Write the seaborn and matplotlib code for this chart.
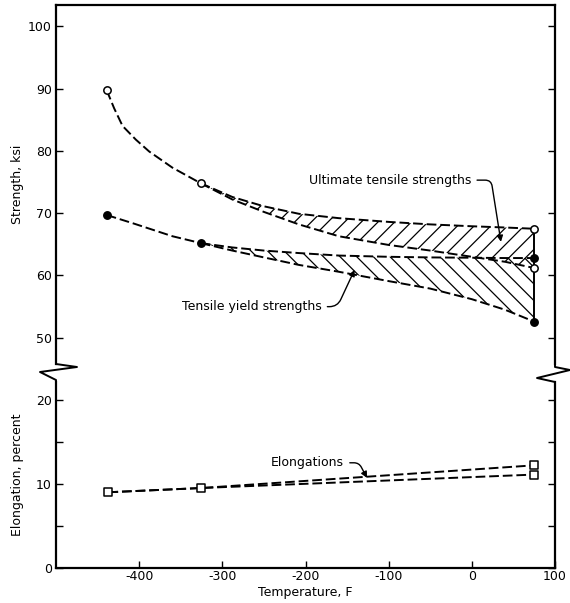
import matplotlib
matplotlib.use("Agg")
import matplotlib.pyplot as plt
from matplotlib.lines import Line2D
import seaborn as sns

# ---- data ----
# left-hand (cryogenic) part of the curves
UTS_LEFT_X = [-439, -430, -420, -404, -388, -360, -326]
UTS_LEFT_Y = [89.7, 86.8, 84.0, 81.8, 79.9, 77.3, 74.8]
TYS_LEFT_X = [-439, -408, -360, -326]
TYS_LEFT_Y = [69.7, 68.4, 66.3, 65.2]

# scatter bands from -320 F up to room temperature
BAND_X = [-326, -288, -250, -208, -160, -100, -50, 0, 40, 75]
UTS_HI = [74.8, 72.6, 71.1, 69.9, 69.2, 68.6, 68.2, 67.9, 67.7, 67.5]
UTS_LO = [74.8, 72.2, 70.2, 68.2, 66.3, 64.9, 64.0, 63.0, 62.2, 61.2]
TYS_HI = [65.2, 64.5, 64.0, 63.6, 63.2, 63.0, 62.9, 62.85, 62.8, 62.8]
TYS_LO = [65.2, 64.0, 62.9, 61.7, 60.6, 59.1, 57.9, 56.2, 54.5, 52.6]

# test points
UTS_PTS_X = [-439, -326, 75, 75]
UTS_PTS_Y = [89.7, 74.8, 67.5, 61.2]
TYS_PTS_X = [-439, -326, 75, 75]
TYS_PTS_Y = [69.7, 65.2, 62.8, 52.6]

ELONG_X = [-437, -326, 75]
ELONG_HI = [9.0, 9.5, 12.2]
ELONG_LO = [9.0, 9.5, 11.1]

X_TICKS = [-400, -300, -200, -100, 0, 100]
TOP_TICKS = [50, 60, 70, 80, 90, 100]
BOT_TICKS = [0, 5, 10, 15, 20]
BOT_LABELS = ["0", "", "10", "", "20"]

sns.set_style("ticks")
plt.rcParams["font.family"] = ["DejaVu Sans"]
plt.rcParams["hatch.linewidth"] = 0.9
plt.rcParams["hatch.color"] = "black"
for key in ("text.color", "axes.labelcolor", "xtick.color", "ytick.color"):
    plt.rcParams[key] = "black"

W, H = 570, 603
fig = plt.figure(figsize=(W / 100, H / 100), dpi=100)

def fig_box(x0, y0, x1, y1):
    # pixel box (top-left origin) -> figure fraction rect
    return [x0 / W, 1 - y1 / H, (x1 - x0) / W, (y1 - y0) / H]

ax_top = fig.add_axes(fig_box(56, 5, 555, 364))
ax_bot = fig.add_axes(fig_box(56, 382, 555, 568))

DASH = (0, (5, 2))
LW = 1.4

# ---- strength panel ----
sns.lineplot(x=UTS_LEFT_X, y=UTS_LEFT_Y, ax=ax_top, color="k", lw=LW,
             linestyle=DASH, sort=False, estimator=None)
sns.lineplot(x=TYS_LEFT_X, y=TYS_LEFT_Y, ax=ax_top, color="k", lw=LW,
             linestyle=DASH, sort=False, estimator=None)

ax_top.fill_between(BAND_X, UTS_LO, UTS_HI, facecolor="none",
                    edgecolor="k", hatch="//", linewidth=0)
ax_top.fill_between(BAND_X, TYS_LO, TYS_HI, facecolor="none",
                    edgecolor="k", hatch="\\\\", linewidth=0)

for ys in (UTS_HI, UTS_LO, TYS_HI, TYS_LO):
    sns.lineplot(x=BAND_X, y=ys, ax=ax_top, color="k", lw=LW,
                 linestyle=DASH, sort=False, estimator=None)

# right-hand edge of the bands
ax_top.vlines(BAND_X[-1], min(TYS_LO[-1], UTS_LO[-1]), UTS_HI[-1],
              color="k", lw=LW)

sns.scatterplot(x=UTS_PTS_X, y=UTS_PTS_Y, ax=ax_top, marker="o", s=28,
                facecolor="white", edgecolor="k", linewidth=1.1, zorder=5)
sns.scatterplot(x=TYS_PTS_X, y=TYS_PTS_Y, ax=ax_top, marker="o", s=28,
                color="k", edgecolor="k", linewidth=1.1, zorder=5)

arrow = dict(arrowstyle="-|>", color="k", lw=1.0, mutation_scale=9,
             shrinkA=2, shrinkB=0)
ax_top.annotate("Ultimate tensile strengths", xy=(35, 65.4), xytext=(-1, 75.3),
                ha="right", va="center", fontsize=9,
                arrowprops=dict(arrow, connectionstyle="angle,angleA=0,angleB=99,rad=6"))
ax_top.annotate("Tensile yield strengths", xy=(-141, 60.9), xytext=(-181, 55.0),
                ha="right", va="center", fontsize=9,
                arrowprops=dict(arrow, connectionstyle="angle,angleA=0,angleB=245,rad=8"))

ax_top.set_xlim(-500, 100)
ax_top.set_ylim(45.8, 103.4)
ax_top.set_yticks(TOP_TICKS)
ax_top.set_xticks([])
ax_top.set_ylabel("Strength, ksi", fontsize=9)
ax_top.yaxis.set_label_coords(-0.064, 0.5)

# ---- elongation panel ----
sns.lineplot(x=ELONG_X, y=ELONG_HI, ax=ax_bot, color="k", lw=LW,
             linestyle=DASH, sort=False, estimator=None)
sns.lineplot(x=ELONG_X, y=ELONG_LO, ax=ax_bot, color="k", lw=LW,
             linestyle=DASH, sort=False, estimator=None)
sns.scatterplot(x=ELONG_X + ELONG_X[-1:], y=ELONG_HI + ELONG_LO[-1:], ax=ax_bot,
                marker="s", s=30, facecolor="white", edgecolor="k",
                linewidth=1.1, zorder=5)
ax_bot.annotate("Elongations", xy=(-126, 10.7), xytext=(-154, 12.5),
                ha="right", va="center", fontsize=9,
                arrowprops=dict(arrow, connectionstyle="angle,angleA=0,angleB=118,rad=5"))

ax_bot.set_xlim(-500, 100)
ax_bot.set_ylim(0, 22.1)
ax_bot.set_yticks(BOT_TICKS)
ax_bot.set_yticklabels(BOT_LABELS)
ax_bot.set_xticks(X_TICKS)
ax_bot.set_xticklabels([str(t) for t in X_TICKS])
ax_bot.set_xlabel("Temperature, F", fontsize=9, labelpad=2)
ax_bot.set_ylabel("Elongation, percent", fontsize=9)
ax_bot.yaxis.set_label_coords(-0.064, 0.5)

# ---- frame styling ----
for ax in (ax_top, ax_bot):
    ax.tick_params(direction="in", length=5, width=1.0, labelsize=9,
                   left=True, right=True, pad=3, colors="black")
    for sp in ax.spines.values():
        sp.set_visible(True)
        sp.set_linewidth(1.6)
        sp.set_color("k")
ax_top.spines["bottom"].set_visible(False)
ax_bot.spines["top"].set_visible(False)
ax_top.tick_params(bottom=False, top=False)
ax_bot.tick_params(top=False)
ax_bot.tick_params(axis="x", pad=1.5)

# axis-break zigzags (figure pixel coords)
left_zig = [(56, 364), (77, 367), (40, 372), (56, 380), (56, 382)]
right_zig = [(555, 364), (555, 367), (570, 370), (537, 378), (555, 382)]
for pts in (left_zig, right_zig):
    xs = [p[0] / W for p in pts]
    ys = [1 - p[1] / H for p in pts]
    fig.add_artist(Line2D(xs, ys, transform=fig.transFigure, color="k",
                          lw=1.4, clip_on=False))

fig.savefig("out.png", dpi=100)
